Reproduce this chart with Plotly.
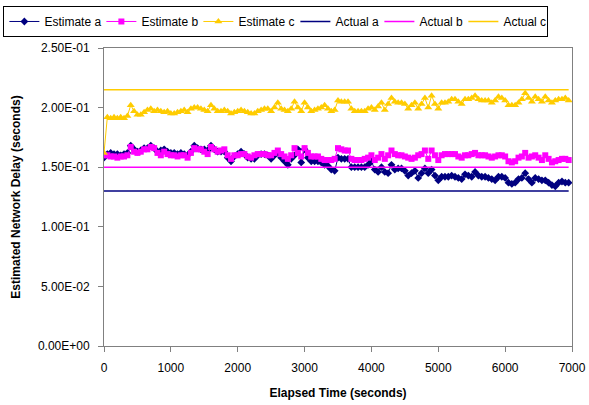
import plotly.graph_objects as go

# Elapsed time (seconds), one sample every 50 s
elapsed_time = list(range(0, 7000, 50))

estimate_a = [
    0.158, 0.161, 0.162, 0.161, 0.161, 0.160, 0.161, 0.162, 0.168, 0.165,
    0.163, 0.164, 0.166, 0.166, 0.168, 0.166, 0.163, 0.164, 0.165, 0.163,
    0.162, 0.162, 0.161, 0.162, 0.161, 0.160, 0.163, 0.168, 0.166, 0.165,
    0.165, 0.164, 0.168, 0.165, 0.163, 0.163, 0.163, 0.158, 0.155, 0.159,
    0.161, 0.163, 0.161, 0.158, 0.157, 0.157, 0.160, 0.161, 0.161, 0.160,
    0.157, 0.160, 0.162, 0.158, 0.155, 0.152, 0.157, 0.160, 0.165, 0.154,
    0.165, 0.158, 0.155, 0.155, 0.155, 0.154, 0.152, 0.151, 0.148, 0.147,
    0.158, 0.157, 0.157, 0.157, 0.150, 0.150, 0.150, 0.150, 0.150, 0.152,
    0.155, 0.148, 0.146, 0.150, 0.146, 0.145, 0.152, 0.148, 0.149, 0.149,
    0.147, 0.143, 0.145, 0.147, 0.141, 0.145, 0.149, 0.145, 0.148, 0.143,
    0.139, 0.142, 0.142, 0.142, 0.143, 0.142, 0.141, 0.140, 0.144, 0.143,
    0.142, 0.146, 0.143, 0.142, 0.142, 0.141, 0.140, 0.139, 0.142, 0.142,
    0.141, 0.137, 0.136, 0.137, 0.140, 0.141, 0.145, 0.140, 0.137, 0.141,
    0.140, 0.139, 0.139, 0.137, 0.135, 0.134, 0.137, 0.138, 0.137, 0.137,
]

estimate_b = [
    0.160, 0.160, 0.159, 0.159, 0.158, 0.159, 0.159, 0.160, 0.167, 0.163,
    0.162, 0.163, 0.165, 0.165, 0.167, 0.166, 0.162, 0.160, 0.163, 0.161,
    0.160, 0.160, 0.159, 0.160, 0.160, 0.158, 0.162, 0.166, 0.165, 0.165,
    0.163, 0.161, 0.167, 0.165, 0.163, 0.164, 0.165, 0.160, 0.157, 0.160,
    0.160, 0.161, 0.161, 0.159, 0.158, 0.160, 0.161, 0.161, 0.161, 0.160,
    0.160, 0.162, 0.164, 0.161, 0.159, 0.157, 0.160, 0.166, 0.162, 0.159,
    0.166, 0.162, 0.159, 0.159, 0.159, 0.157, 0.156, 0.156, 0.156, 0.157,
    0.166, 0.165, 0.164, 0.164, 0.157, 0.156, 0.156, 0.156, 0.157, 0.158,
    0.160, 0.156, 0.158, 0.161, 0.157, 0.160, 0.164, 0.161, 0.160, 0.160,
    0.159, 0.158, 0.157, 0.158, 0.160, 0.161, 0.164, 0.157, 0.164, 0.160,
    0.156, 0.160, 0.161, 0.161, 0.161, 0.161, 0.159, 0.158, 0.160, 0.160,
    0.161, 0.162, 0.160, 0.160, 0.160, 0.159, 0.158, 0.159, 0.160, 0.160,
    0.159, 0.155, 0.154, 0.155, 0.158, 0.159, 0.162, 0.158, 0.159, 0.160,
    0.158, 0.156, 0.160, 0.157, 0.154, 0.155, 0.156, 0.157, 0.157, 0.156,
]

estimate_c = [
    0.162, 0.192, 0.191, 0.192, 0.191, 0.192, 0.191, 0.193, 0.202, 0.197,
    0.194, 0.194, 0.196, 0.198, 0.199, 0.197, 0.198, 0.197, 0.196, 0.197,
    0.195, 0.195, 0.196, 0.197, 0.198, 0.196, 0.199, 0.200, 0.200, 0.199,
    0.198, 0.197, 0.202, 0.199, 0.197, 0.197, 0.198, 0.197, 0.195, 0.196,
    0.197, 0.198, 0.197, 0.196, 0.195, 0.195, 0.197, 0.198, 0.199, 0.199,
    0.197, 0.200, 0.204, 0.199, 0.198, 0.197, 0.199, 0.205, 0.200, 0.197,
    0.204, 0.200, 0.197, 0.198, 0.199, 0.200, 0.202, 0.199, 0.197, 0.198,
    0.206, 0.205, 0.205, 0.205, 0.199, 0.197, 0.197, 0.197, 0.197, 0.199,
    0.200, 0.198, 0.201, 0.204, 0.198, 0.203, 0.208, 0.205, 0.204, 0.204,
    0.203, 0.199, 0.202, 0.204, 0.199, 0.203, 0.208, 0.200, 0.210, 0.203,
    0.199, 0.204, 0.204, 0.205, 0.207, 0.207, 0.205, 0.203, 0.207, 0.207,
    0.208, 0.210, 0.207, 0.206, 0.206, 0.206, 0.204, 0.206, 0.209, 0.208,
    0.206, 0.202, 0.202, 0.202, 0.204, 0.207, 0.212, 0.208, 0.205, 0.209,
    0.207, 0.205, 0.209, 0.206, 0.204, 0.206, 0.207, 0.207, 0.208, 0.206,
]

actual_a = 0.130
actual_b = 0.150
actual_c = 0.215

y_tick_values = [0.0, 0.05, 0.10, 0.15, 0.20, 0.25]
y_tick_labels = ["0.00E+00", "5.00E-02", "1.00E-01", "1.50E-01", "2.00E-01", "2.50E-01"]
x_tick_values = [0, 1000, 2000, 3000, 4000, 5000, 6000, 7000]

NAVY = "#000080"
MAGENTA = "#FF00FF"
GOLD = "#FFCC00"
AXIS = "#808080"
FONT = "Liberation Sans, Arial, sans-serif"

line_x = [elapsed_time[0], elapsed_time[-1]]

fig = go.Figure()
fig.add_trace(go.Scatter(x=elapsed_time, y=estimate_a, name="Estimate a", mode="lines+markers",
                         line=dict(color=NAVY, width=1),
                         marker=dict(symbol="diamond", size=6, color=NAVY), legendwidth=52))
fig.add_trace(go.Scatter(x=elapsed_time, y=estimate_b, name="Estimate b", mode="lines+markers",
                         line=dict(color=MAGENTA, width=1),
                         marker=dict(symbol="square", size=6, color=MAGENTA), legendwidth=52))
fig.add_trace(go.Scatter(x=elapsed_time, y=estimate_c, name="Estimate c", mode="lines+markers",
                         line=dict(color=GOLD, width=1),
                         marker=dict(symbol="triangle-up", size=7, color=GOLD), legendwidth=52))
fig.add_trace(go.Scatter(x=line_x, y=[actual_a, actual_a], name="Actual a", mode="lines",
                         line=dict(color=NAVY, width=1.5), legendwidth=39))
fig.add_trace(go.Scatter(x=line_x, y=[actual_b, actual_b], name="Actual b", mode="lines",
                         line=dict(color=MAGENTA, width=1.5), legendwidth=39))
fig.add_trace(go.Scatter(x=line_x, y=[actual_c, actual_c], name="Actual c", mode="lines",
                         line=dict(color=GOLD, width=1.5), legendwidth=39))

fig.update_layout(
    width=589, height=405,
    margin=dict(l=104, r=17, t=48, b=59, autoexpand=False),
    paper_bgcolor="white", plot_bgcolor="white",
    font=dict(family=FONT, size=12, color="black"),
    showlegend=True,
    legend=dict(orientation="h", x=-0.215, xanchor="left", y=1.141, yanchor="top",
                bordercolor="black", borderwidth=1, bgcolor="white",
                font=dict(family=FONT, size=12), itemwidth=30,
                tracegroupgap=0),
    xaxis=dict(range=[0, 7000], tickvals=x_tick_values, showgrid=False, zeroline=False,
               showline=True, linecolor=AXIS, linewidth=1, mirror=True,
               ticks="outside", ticklen=5, tickcolor=AXIS, ticklabelstandoff=6,
               title=dict(text="<b>Elapsed Time (seconds)</b>", standoff=14,
                          font=dict(family=FONT, size=12))),
    yaxis=dict(range=[0, 0.25], tickvals=y_tick_values, ticktext=y_tick_labels,
               showgrid=False, zeroline=False,
               showline=True, linecolor=AXIS, linewidth=1, mirror=True,
               ticks="outside", ticklen=5, tickcolor=AXIS, ticklabelstandoff=6,
               title=dict(text="<b>Estimated Network Delay (seconds)</b>", standoff=14,
                          font=dict(family=FONT, size=12))),
)

# remove the browser's default 8px page margin so the figure fills the window exactly
fig.write_html("out.html", config={"displayModeBar": False},
               post_script="document.body.style.margin='0';")
